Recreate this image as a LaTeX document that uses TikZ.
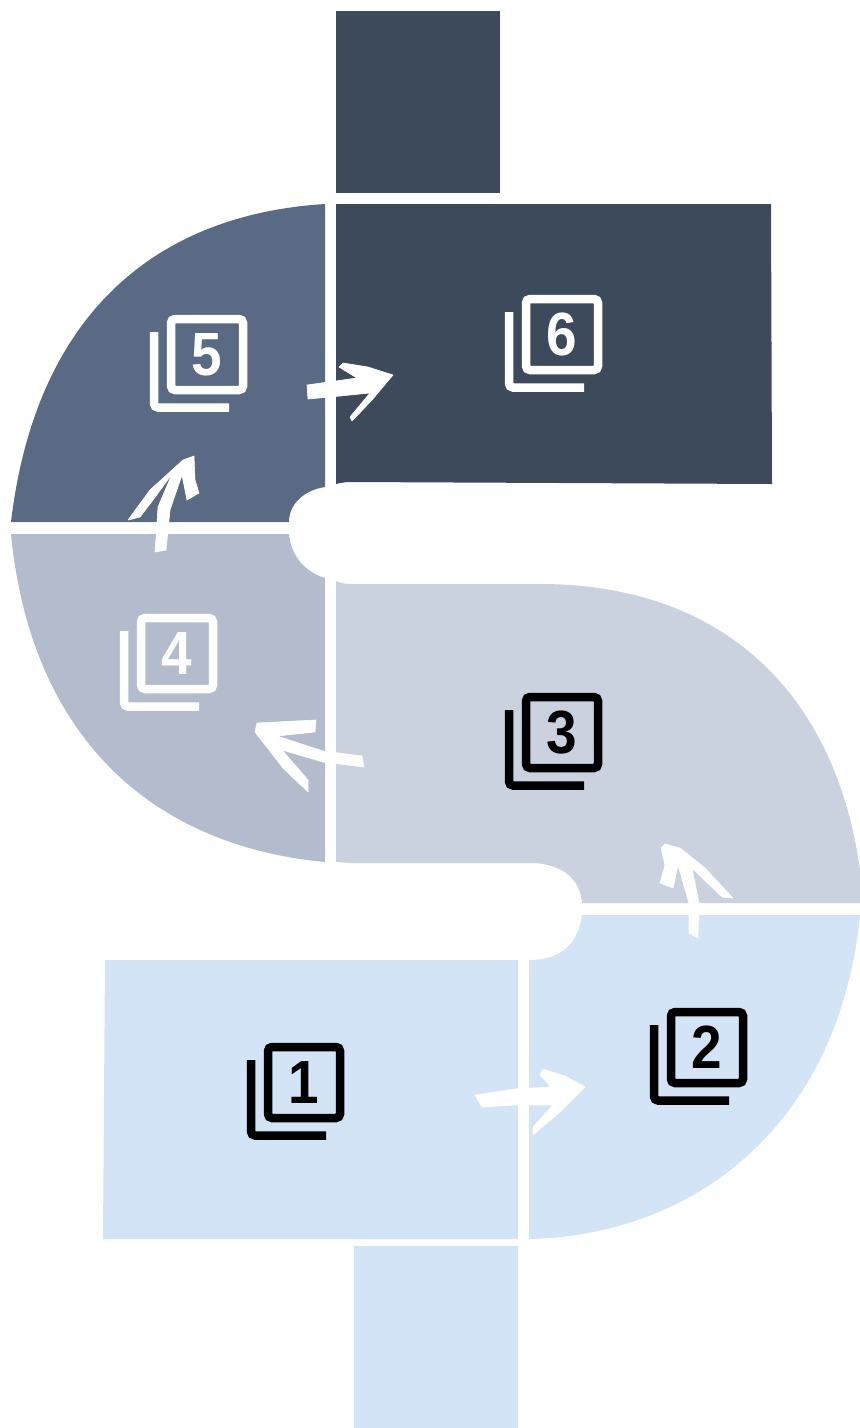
\documentclass[tikz,border=0pt]{standalone}
\usepackage{fontspec}
\newfontfamily\digitfont{Liberation Sans}[BoldFont={Liberation Sans Bold}]
\definecolor{darkslate}{HTML}{3D4A5C}
\definecolor{midslate}{HTML}{5A6A85}
\definecolor{softslate}{HTML}{B2BCCC}
\definecolor{paleslate}{HTML}{CAD1DF}
\definecolor{paleblue}{HTML}{D3E4F7}
\tikzset{
    icondigit/.style={inner sep=0pt,font=\digitfont\bfseries\fontsize{61}{61}\selectfont},
    iconline/.style={line width=8.5pt,rounded corners=4pt,line cap=butt},
    brush/.style={fill=white,draw=white,line width=0.6pt,line join=round}
}
\begin{document}
\begin{tikzpicture}[x=1pt,y=-1pt]
            \useasboundingbox (0,0) rectangle (860,1428);
            % blocks
            \fill[darkslate] (336,11) rectangle (500,193);
            \fill[darkslate] (336,204) -- (771,204) -- (772,484) -- (350,482) .. controls (345,482) and (340,483) .. (336,484) -- cycle;
            \fill[midslate] (325,204) .. controls (150,215) and (35,320) .. (11,522) -- (289,522) .. controls (289,503) and (305,490) .. (325,487) -- cycle;
            \fill[softslate] (11,534) .. controls (30,730) and (145,845) .. (325,862) -- (325,578) .. controls (305,572) and (291,556) .. (289,534) -- cycle;
            \fill[paleslate] (336,581) .. controls (340,583) and (345,584) .. (352,584) -- (540,584) .. controls (720,584) and (835,690) .. (860,870) -- (860,903) -- (582,903) .. controls (580,880) and (565,866) .. (536,863) -- (350,863) -- (336,862) -- cycle;
            \fill[paleblue] (582,915) -- (860,915) .. controls (840,1120) and (700,1235) .. (529,1239) -- (529,960) .. controls (560,960) and (578,945) .. (582,915) -- cycle;
            \fill[paleblue] (105,960) -- (518,960) -- (518,1239) -- (103,1239) -- cycle;
            \fill[paleblue] (354,1246) rectangle (518,1428);
            % icons
            \foreach \n/\x/\y/\c in {1/264/1043/black,2/667/1008/black,3/522/693/black,4/137/614/white,5/167/315/white,6/522/295/white}{%
                    \begin{scope}[shift={(\x,\y)}]
                        \draw[iconline,\c] (4,4) rectangle (76,75);
                        \draw[iconline,\c] (-13,17) -- (-13,92.5) -- (62,92.5);
                        \node[icondigit,text=\c] (icon\n) at (40,39.5) {\scalebox{.9}[1]{\n}};
                    \end{scope}
                }
            % brush arrows
            \fill[brush] (475,1095) -- (515,1089) -- (551,1087) -- (540,1075) -- (543,1069) -- (565,1076) -- (585,1087) -- (560,1112) -- (533,1135) -- (533,1127) -- (553,1105) -- (515,1105) -- (482,1107) -- cycle;
            \fill[brush] (689,933) -- (689,903) -- (678,865) -- (673,888) -- (660,883) -- (665,865) -- (661,848) -- (665,844) -- (680,848) -- (705,868) -- (733,898) -- (722,897) -- (692,868) -- (699,903) -- (698,938) -- cycle;
            \fill[brush] (364,767) -- (362,756) -- (323,751) -- (277,736) -- (315,732) -- (316,720) -- (257,723) -- (255,732) -- (283,768) -- (308,792) -- (308,780) -- (282,750) -- (323,762) -- cycle;
            \fill[brush] (155,552) -- (158,507) -- (172,474) -- (153,500) -- (140,517) -- (128,520) -- (150,490) -- (183,460) -- (194,456) -- (195,480) -- (199,493) -- (187,500) -- (182,475) -- (170,510) -- (166,550) -- cycle;
            \fill[brush] (307,385) -- (357,378) -- (339,367) -- (343,363) -- (368,367) -- (393,375) -- (372,400) -- (352,421) -- (350,417) -- (370,393) -- (330,397) -- (308,399) -- cycle;
        \end{tikzpicture}
\end{document}
